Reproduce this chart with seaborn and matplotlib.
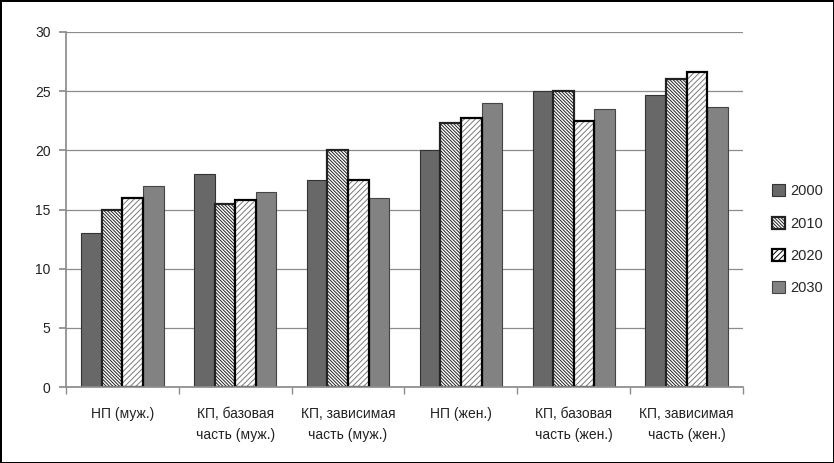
import numpy as np
import pandas as pd
import matplotlib
matplotlib.use("Agg")
import matplotlib.pyplot as plt
from matplotlib.patches import Rectangle
import seaborn as sns

# Данные
categories = ["НП (муж.)", "КП, базовая\nчасть (муж.)", "КП, зависимая\nчасть (муж.)",
              "НП (жен.)", "КП, базовая\nчасть (жен.)", "КП, зависимая\nчасть (жен.)"]
years = ["2000", "2010", "2020", "2030"]
v2000 = [13.0, 18.0, 17.5, 20.0, 25.0, 24.7]
v2010 = [15.0, 15.5, 20.0, 22.3, 25.0, 26.0]
v2020 = [16.0, 15.8, 17.5, 22.7, 22.5, 26.6]
v2030 = [17.0, 16.5, 16.0, 24.0, 23.5, 23.7]
yticks = [0, 5, 10, 15, 20, 25, 30]

df = pd.DataFrame({
    "cat": categories * 4,
    "year": sum([[y] * len(categories) for y in years], []),
    "val": v2000 + v2010 + v2020 + v2030,
})

sns.set_theme(style="white")
plt.rcParams["font.family"] = ["Liberation Sans", "DejaVu Sans"]
plt.rcParams["hatch.linewidth"] = 0.7

fig = plt.figure(figsize=(8.34, 4.63), dpi=100)
ax = fig.add_axes([0.079, 0.164, 0.812, 0.767])

sns.barplot(data=df, x="cat", y="val", hue="year", order=categories, hue_order=years,
            width=0.73, ax=ax, errorbar=None, legend=False, saturation=1)

styles = {
    "2000": dict(fc="#686868", ec="#333333", lw=0.8, hatch=None),
    "2010": dict(fc="white", ec="#222222", lw=1.6, hatch="\\" * 10),
    "2020": dict(fc="white", ec="#7a7a7a", lw=0.0, hatch="/" * 6),
    "2030": dict(fc="#828282", ec="#444444", lw=0.8, hatch=None),
}
for cont, y in zip(ax.containers, years):
    st = styles[y]
    for p in cont:
        p.set_facecolor(st["fc"])
        p.set_edgecolor(st["ec"])
        p.set_linewidth(st["lw"])
        if st["hatch"]:
            p.set_hatch(st["hatch"])
        if y == "2020":
            ax.add_patch(Rectangle(p.get_xy(), p.get_width(), p.get_height(),
                                   fill=False, ec="black", lw=1.6, zorder=p.get_zorder() + 0.1))

ax.set_ylim(0, 30)
ax.set_xlim(-0.5, len(categories) - 0.5)
ax.set_yticks(yticks)
ax.set_yticklabels([str(t) for t in yticks], fontsize=10, color="#222222")
ax.yaxis.grid(True, color="#8c8c8c", lw=0.9)
ax.set_axisbelow(True)
ax.set_xlabel("")
ax.set_ylabel("")
for s in ["top", "right"]:
    ax.spines[s].set_visible(False)
ax.spines["left"].set_color("#8c8c8c")
ax.spines["bottom"].set_color("#8c8c8c")
ax.tick_params(axis="y", left=True, length=5, color="#8c8c8c", pad=6)
ax.tick_params(axis="x", which="major", length=0, pad=14, labelsize=10, colors="#222222")
ax.set_xticks(np.arange(-0.5, len(categories)), minor=True)
ax.tick_params(axis="x", which="minor", bottom=True, length=5, color="#8c8c8c")
for lbl in ax.get_xticklabels():
    lbl.set_linespacing(1.7)

# Легенда
handles = []
for y in years:
    st = styles[y]
    ec = "black" if y == "2020" else st["ec"]
    lw = 1.6 if y == "2020" else st["lw"]
    handles.append(Rectangle((0, 0), 1, 1, fc=st["fc"], ec=ec, lw=lw, hatch=st["hatch"]))
fig.legend(handles, years, loc="center left", bbox_to_anchor=(0.926, 0.482), frameon=False,
           fontsize=10.5, handlelength=0.9, handleheight=0.9, handletextpad=0.3,
           labelspacing=1.25, borderpad=0, borderaxespad=0)

fig.patch.set_edgecolor("black")
fig.patch.set_linewidth(2)
fig.savefig("out.png", dpi=100, edgecolor=fig.get_edgecolor())
